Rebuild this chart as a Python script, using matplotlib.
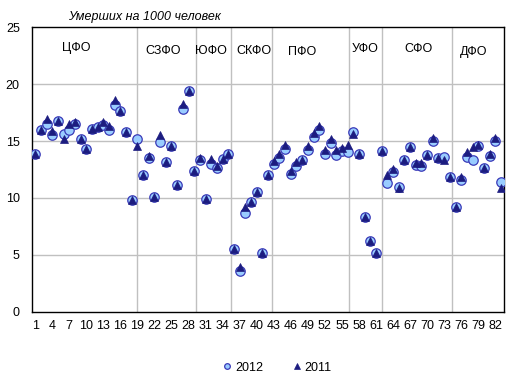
import numpy as np
import matplotlib
matplotlib.use("Agg")
import matplotlib.pyplot as plt

plt.rcParams['font.family'] = ['Liberation Sans', 'DejaVu Sans']

regions = np.arange(1, 84)

deaths_2012 = [13.9, 16.0, 16.5, 15.5, 16.8, 15.6, 16.0, 16.5, 15.2, 14.3,
               16.1, 16.2, 16.4, 16.0, 18.2, 17.6, 15.8, 9.8, 15.2, 12.0,
               13.5, 10.1, 14.9, 13.2, 14.6, 11.1, 17.8, 19.4, 12.4, 13.3,
               9.9, 13.0, 12.6, 13.4, 13.9, 5.5, 3.6, 8.7, 9.6, 10.5,
               5.2, 12.0, 13.0, 13.5, 14.3, 12.1, 12.8, 13.3, 14.2, 15.4,
               16.0, 13.9, 14.8, 13.8, 14.1, 14.0, 15.8, 13.9, 8.3, 6.2,
               5.2, 14.1, 11.3, 12.3, 11.0, 13.3, 14.5, 12.9, 12.8, 13.8,
               15.0, 13.5, 13.6, 11.8, 9.2, 11.6, 13.6, 13.3, 14.6, 12.6,
               13.7, 15.0, 11.4]

deaths_2011 = [13.9, 16.0, 16.9, 15.9, 16.8, 15.2, 16.5, 16.7, 15.2, 14.3,
               16.1, 16.2, 16.7, 16.3, 18.6, 17.6, 15.8, 9.8, 14.6, 12.0,
               13.7, 10.1, 15.5, 13.2, 14.6, 11.1, 18.3, 19.4, 12.4, 13.5,
               9.9, 13.4, 12.8, 13.4, 13.9, 5.5, 3.95, 9.2, 9.6, 10.5,
               5.2, 12.0, 13.25, 13.9, 14.65, 12.4, 13.2, 13.3, 14.6, 15.7,
               16.3, 14.2, 15.2, 14.2, 14.4, 14.65, 15.6, 13.9, 8.3, 6.2,
               5.2, 14.1, 12.0, 12.5, 10.85, 13.3, 14.5, 13.05, 13.1, 13.8,
               15.3, 13.5, 13.3, 11.8, 9.2, 11.8, 14.0, 14.5, 14.65, 12.6,
               13.9, 15.25, 10.9]

districts = ['ЦФО', 'СЗФО', 'ЮФО', 'СКФО', 'ПФО', 'УФО', 'СФО', 'ДФО']
district_label_x = [8.3, 23.5, 31.9, 39.5, 48.0, 59.1, 68.5, 78.1]
district_label_y = [23.2, 22.9, 22.9, 22.9, 22.85, 23.07, 23.07, 22.85]
district_edges = [19.0, 29.3, 35.5, 42.7, 56.2, 62.1, 74.3]

fig = plt.figure(figsize=(5.21, 3.78), dpi=100)
ax = fig.add_axes([0.062, 0.1754, 0.905, 0.7524])

for y in [5, 10, 15, 20]:
    ax.axhline(y, color='#c0c0c0', lw=1, zorder=0)
for x in district_edges:
    ax.axvline(x, color='#c0c0c0', lw=1, zorder=0)

ax.plot(regions, deaths_2012, 'o', ms=6.8, mfc='#99ccff', mec='#3a3ab8',
        mew=0.9, label='2012', zorder=3)
ax.plot(regions, deaths_2011, '^', ms=6.4, mfc='#1c1c80', mec='#1c1c80',
        mew=0.5, label='2011', zorder=4)

for name, lx, ly in zip(districts, district_label_x, district_label_y):
    ax.text(lx, ly, name, ha='center', va='center', fontsize=9)

ax.set_xlim(0.5, 83.5)
ax.set_ylim(0, 25)
ax.set_xticks(np.arange(1, 84, 3))
ax.set_yticks(np.arange(0, 26, 5))
ax.tick_params(length=0, labelsize=9, pad=6)
ax.tick_params(axis='y', pad=9)
for s in ax.spines.values():
    s.set_color('black')
    s.set_linewidth(1)

fig.text(0.131, 0.954, 'Умерших на 1000 человек', fontsize=9, style='italic',
         ha='left', va='center')

fig.legend(loc='center', bbox_to_anchor=(0.53, 0.027), ncol=2, frameon=False,
           fontsize=9, markerscale=0.6, handletextpad=0.1, columnspacing=2.2,
           handlelength=1.0)

fig.savefig('out.png', dpi=100)
